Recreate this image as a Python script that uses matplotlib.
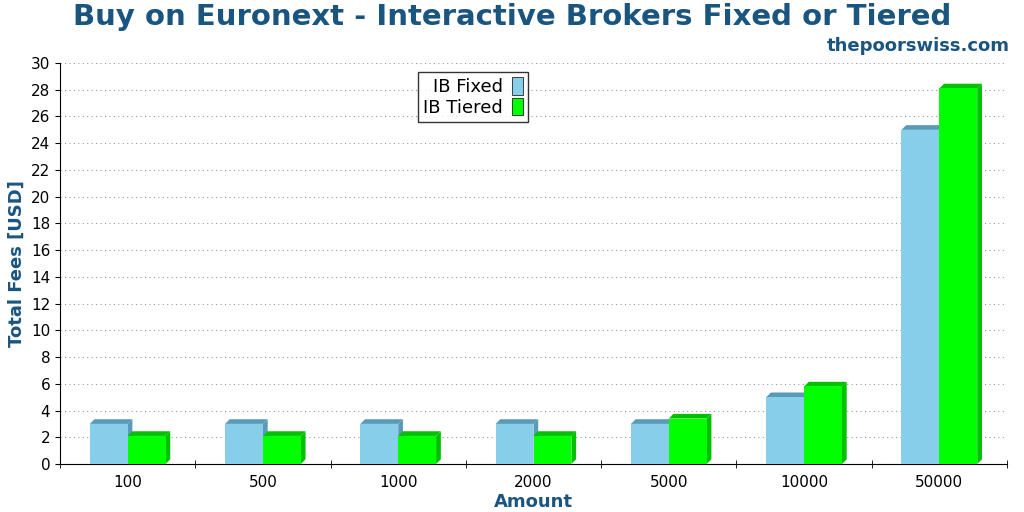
import matplotlib
matplotlib.use("Agg")
import matplotlib.pyplot as plt
from matplotlib.patches import Polygon, Rectangle

categories = ["100", "500", "1000", "2000", "5000", "10000", "50000"]
ib_fixed = [3.0, 3.0, 3.0, 3.0, 3.0, 5.0, 25.0]
ib_tiered = [2.1, 2.1, 2.1, 2.1, 3.4, 5.8, 28.1]
series = [("IB Fixed", ib_fixed, "#87ceeb", "#5a9ab8"),
          ("IB Tiered", ib_tiered, "#00ff00", "#00c000")]

navy = "#1a5580"
fig = plt.figure(figsize=(10.24, 5.12), dpi=100)
ax = fig.add_axes([60/1024, 48/512, 947/1024, 401/512])
w = 0.28
dx, dy = 0.035, 0.35
for i, (name, vals, c, dc) in enumerate(series):
    for j, v in enumerate(vals):
        x0 = j - w + i * w
        ax.add_patch(Polygon([(x0, v), (x0 + dx, v + dy), (x0 + w + dx, v + dy), (x0 + w, v)],
                             closed=True, facecolor=dc, edgecolor="none", zorder=3))
        ax.add_patch(Polygon([(x0 + w, 0), (x0 + w + dx, dy), (x0 + w + dx, v + dy), (x0 + w, v)],
                             closed=True, facecolor=dc, edgecolor="none", zorder=3))
        ax.add_patch(Rectangle((x0, 0), w, v, facecolor=c, edgecolor="none", zorder=4))
    ax.bar([0], [0], color=c, label=name)

ax.set_xlim(-0.5, len(categories) - 0.5)
ax.set_ylim(0, 30)
ax.set_yticks(range(0, 31, 2))
ax.set_xticks(range(len(categories)))
ax.set_xticklabels(categories, fontsize=11)
ax.tick_params(axis="y", labelsize=11)
ax.set_xticks([k - 0.5 for k in range(len(categories) + 1)], minor=True)
ax.tick_params(axis="x", which="major", length=0, pad=8)
ax.tick_params(axis="x", which="minor", length=6, direction="inout")
ax.yaxis.grid(True, linestyle=(0, (1, 3)), color="#999999", zorder=0)
for s in ["top", "right"]:
    ax.spines[s].set_visible(False)
ax.set_xlabel("Amount", fontsize=13, fontweight="bold", color=navy, labelpad=2)
ax.set_ylabel("Total Fees [USD]", fontsize=13, fontweight="bold", color=navy)
fig.text(0.5, 0.967, "Buy on Euronext - Interactive Brokers Fixed or Tiered", ha="center", va="center",
         fontsize=21, fontweight="bold", color=navy)
fig.text(0.986, 0.91, "thepoorswiss.com", ha="right", va="center", fontsize=13, fontweight="bold", color=navy)
leg = ax.legend(loc="upper left", bbox_to_anchor=(0.368, 1.0), fontsize=13, markerfirst=False,
                fancybox=False, edgecolor="black", handlelength=0.6, handleheight=1.1,
                borderpad=0.3, labelspacing=0.1, handletextpad=0.5)
for h in leg.legend_handles:
    h.set_edgecolor("black"); h.set_linewidth(0.5)
fig.savefig("out.png", dpi=100)
